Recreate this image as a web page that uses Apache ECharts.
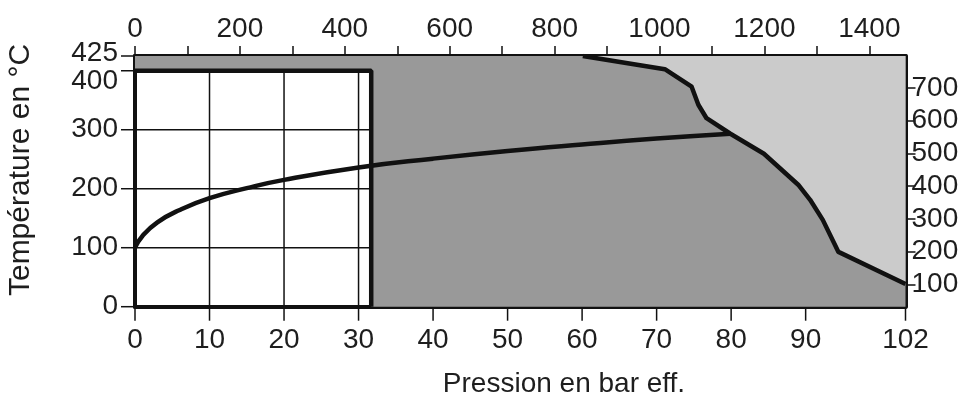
<!DOCTYPE html>
<html>
<head>
<meta charset="utf-8">
<script src="https://cdn.jsdelivr.net/npm/echarts@6/dist/echarts.min.js"></script>
<style>
  html, body { margin: 0; padding: 0; background: #fff; }
  #chart { width: 974px; height: 394px; }
</style>
</head>
<body>
<div id="chart"></div>
<script>
// Bornes des axes
const pressionMax = 103.4;   // bord droit du cadre, étiqueté "102"
const tempMax = 425;
const psiMax = 1469;
const fahrMin = 32;
const fahrMax = 797;

// Graduations
const ticksBar = [0, 10, 20, 30, 40, 50, 60, 70, 80, 90, pressionMax];
const labelsTemp = [0, 100, 200, 300, 400];
const ticksTemp = [0, 100, 200, 300, 400, 425];
const ticksPsi = [0, 100, 200, 300, 400, 500, 600, 700, 800, 900, 1000, 1100, 1200, 1300, 1400];
const labelsPsi = [0, 200, 400, 600, 800, 1000, 1200, 1400];
const ticksFahr = [100, 200, 300, 400, 500, 600, 700];

// Zone blanche (bar, °C) et son quadrillage
const zoneBlanche = [31.7, 400];
const grilleBar = [10, 20, 30];
const grilleTemp = [100, 200, 300];

// Courbe vapeur saturée [bar eff., °C]
const courbeSaturee = [
    [0, 100], [1, 120], [3, 143], [6, 164], [10, 184], [15, 201], [20, 215],
    [30, 236], [40, 251], [50, 264], [60, 275], [70, 285], [79.9, 293.2]
];

// Courbe limite (côté droit) [bar eff., °C]
const courbeLimite = [
    [60.1, 425], [71.1, 402.7], [74.7, 373], [75.6, 342.4], [76.7, 319.5],
    [79.9, 293.2], [84.4, 259.3], [89.0, 206.8], [90.6, 181.2], [92.3, 147.2],
    [94.4, 92.9], [103.4, 38.5]
];

const couleurTexte = '#1e1e1e';
const police = 'Liberation Sans, Arial, sans-serif';
const longueurTick = 12;

const chart = echarts.init(document.getElementById('chart'));

function polygone(api, points, fill) {
    return {
        type: 'polygon',
        shape: { points: points.map(p => api.coord(p)) },
        style: { fill: fill }
    };
}

function trait(x1, y1, x2, y2) {
    return {
        type: 'line',
        shape: { x1: x1, y1: y1, x2: x2, y2: y2 },
        style: { stroke: '#111', lineWidth: 1.5 }
    };
}

function segment(api, a, b) {
    const p1 = api.coord(a), p2 = api.coord(b);
    return trait(p1[0], p1[1], p2[0], p2[1]);
}

const ligneAxe = { show: true, onZero: false, lineStyle: { color: '#111', width: 4 } };
const styleTick = { color: '#111', width: 1.5 };

const option = {
    animation: false,
    textStyle: { fontFamily: police },
    grid: { left: 135, right: 68.5, top: 56, bottom: 87.3, outerBoundsMode: 'none' },
    xAxis: [
        {
            // bar eff.
            type: 'value',
            position: 'bottom',
            min: 0,
            max: pressionMax,
            axisLine: ligneAxe,
            axisTick: { show: false },
            axisLabel: {
                customValues: ticksBar,
                showMinLabel: true,
                showMaxLabel: true,
                fontSize: 28,
                color: couleurTexte,
                margin: 20,
                formatter: v => (v > 100 ? '102' : String(v))
            },
            splitLine: { show: false }
        },
        {
            // psi
            type: 'value',
            position: 'top',
            min: 0,
            max: psiMax,
            axisLine: ligneAxe,
            axisTick: { show: true, length: 10, customValues: ticksPsi, lineStyle: styleTick },
            axisLabel: { customValues: labelsPsi, fontSize: 28, color: couleurTexte, margin: 13, formatter: v => String(v) },
            splitLine: { show: false }
        }
    ],
    yAxis: [
        {
            // °C : étiquettes 0 à 400
            type: 'value',
            position: 'left',
            min: 0,
            max: tempMax,
            axisLine: ligneAxe,
            axisTick: { show: false },
            axisLabel: {
                customValues: labelsTemp,
                showMinLabel: true,
                showMaxLabel: true,
                fontSize: 28,
                color: couleurTexte,
                margin: 17,
                formatter: v => (v === 400 ? '{bas|400}' : String(v)),
                rich: { bas: { fontSize: 28, color: couleurTexte, padding: [22, 0, 0, 0] } }
            },
            splitLine: { show: false }
        },
        {
            // °F
            type: 'value',
            position: 'right',
            min: fahrMin,
            max: fahrMax,
            axisLine: ligneAxe,
            axisTick: { show: true, length: 10, customValues: ticksFahr, lineStyle: styleTick },
            axisLabel: { customValues: ticksFahr, fontSize: 28, color: couleurTexte, margin: 6 },
            splitLine: { show: false }
        },
        {
            // °C : étiquette 425
            type: 'value',
            position: 'left',
            min: 0,
            max: tempMax,
            axisLine: ligneAxe,
            axisTick: { show: false },
            axisLabel: {
                customValues: [tempMax],
                showMaxLabel: true,
                fontSize: 28,
                color: couleurTexte,
                margin: 17,
                formatter: v => '{haut|' + v + '}',
                rich: { haut: { fontSize: 28, color: couleurTexte, padding: [0, 0, 5, 0] } }
            },
            splitLine: { show: false }
        }
    ],
    graphic: [
        {
            type: 'text',
            x: 564, y: 370,
            style: {
                text: 'Pression en bar eff.',
                fontSize: 28, fontFamily: police, fill: couleurTexte,
                align: 'center', verticalAlign: 'top'
            }
        },
        {
            type: 'text',
            x: 21, y: 170,
            rotation: Math.PI / 2,
            style: {
                text: 'Température en °C',
                fontSize: 30, fontFamily: police, fill: couleurTexte,
                align: 'center', verticalAlign: 'middle'
            }
        },
        {
            type: 'group',
            z: 100,
            children: [
                { type: 'rect', shape: { x: 382, y: 170, width: 319, height: 43 }, style: { fill: '#fff' } },
                {
                    type: 'text',
                    x: 548, y: 187,
                    style: {
                        text: 'Courbe vapeur saturée',
                        fontSize: 27, fontFamily: police, fill: couleurTexte,
                        align: 'center', verticalAlign: 'middle'
                    }
                }
            ]
        }
    ],
    series: [
        {
            type: 'custom',
            xAxisIndex: 0,
            yAxisIndex: 0,
            silent: true,
            clip: false,
            z: 1,
            data: [[0, 0]],
            renderItem: function (params, api) {
                const fond = [
                    [0, zoneBlanche[1]], [zoneBlanche[0], zoneBlanche[1]], [zoneBlanche[0], 0],
                    [pressionMax, 0], [pressionMax, tempMax], [0, tempMax]
                ];
                const clair = courbeLimite.concat([[pressionMax, tempMax]]);
                const enfants = [
                    polygone(api, fond, '#999999'),
                    polygone(api, clair, '#cbcbcb')
                ];
                grilleBar.forEach(b => enfants.push(segment(api, [b, 0], [b, zoneBlanche[1]])));
                grilleTemp.forEach(t => enfants.push(segment(api, [0, t], [zoneBlanche[0], t])));
                // graduations des axes bas et gauche
                ticksBar.forEach(b => {
                    const p = api.coord([b, 0]);
                    enfants.push(trait(p[0], p[1] + 2, p[0], p[1] + 2 + longueurTick));
                });
                ticksTemp.forEach(t => {
                    const p = api.coord([0, t]);
                    enfants.push(trait(p[0] - 2 - longueurTick, p[1], p[0] - 2, p[1]));
                });
                return { type: 'group', children: enfants };
            }
        },
        {
            type: 'line',
            xAxisIndex: 0,
            yAxisIndex: 0,
            z: 3,
            symbol: 'none',
            silent: true,
            data: [[0, zoneBlanche[1]], [zoneBlanche[0], zoneBlanche[1]], [zoneBlanche[0], 0]],
            lineStyle: { color: '#111', width: 4.5 }
        },
        {
            type: 'line',
            xAxisIndex: 0,
            yAxisIndex: 0,
            z: 3,
            symbol: 'none',
            silent: true,
            data: courbeLimite,
            lineStyle: { color: '#111', width: 4.5, join: 'round' }
        },
        {
            type: 'line',
            xAxisIndex: 0,
            yAxisIndex: 0,
            z: 3,
            symbol: 'none',
            silent: true,
            smooth: 0.5,
            data: courbeSaturee,
            lineStyle: { color: '#111', width: 4.5 }
        }
    ]
};

chart.setOption(option);
window.addEventListener('resize', function () { chart.resize(); });
</script>
</body>
</html>
